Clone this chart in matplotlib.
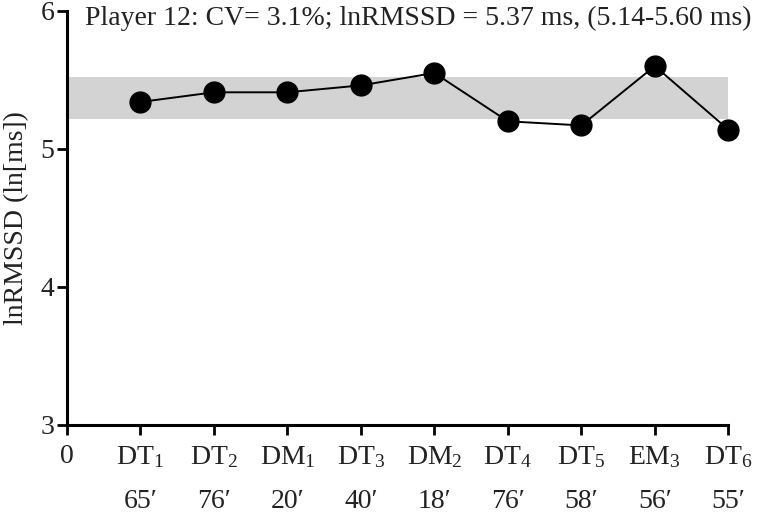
import matplotlib
matplotlib.use("Agg")
import matplotlib.pyplot as plt

plt.rcParams["font.family"] = ["Liberation Serif", "DejaVu Serif"]
plt.rcParams["mathtext.fontset"] = "custom"
plt.rcParams["mathtext.rm"] = "Liberation Serif"
plt.rcParams["mathtext.it"] = "Liberation Serif:italic"

sessions = ["DT", "DT", "DM", "DT", "DM", "DT", "DT", "EM", "DT"]
session_idx = [1, 2, 1, 3, 2, 4, 5, 3, 6]
minutes = [65, 76, 20, 40, 18, 76, 58, 56, 55]
ln_rmssd = [5.34, 5.41, 5.41, 5.46, 5.55, 5.20, 5.17, 5.60, 5.14]
band_low, band_high = 5.22, 5.52
title = "Player 12: CV= 3.1%; lnRMSSD = 5.37 ms, (5.14-5.60 ms)"

fs = 20

fig = plt.figure(figsize=(7.61, 5.17), dpi=100)
ax = fig.add_axes([0.088, 0.178, 0.869, 0.801])

x = list(range(1, len(ln_rmssd) + 1))
ax.axhspan(band_low, band_high, xmin=0, xmax=1, color="#d3d3d3", zorder=0, lw=0)
ax.plot(x, ln_rmssd, color="black", lw=1.4, marker="o", markersize=15,
        markerfacecolor="black", zorder=3, clip_on=False)

ax.set_xlim(0, 9)
ax.set_ylim(3, 6)
ax.set_yticks([3, 4, 5, 6])
ax.set_xticks([0] + x)
labels = ["0"] + [f"{s}$_{{{i}}}$\n{m}\u2032" for s, i, m in zip(sessions, session_idx, minutes)]
ax.set_xticklabels(labels, fontsize=fs, linespacing=2.0, color="#222222")
ax.tick_params(axis="y", labelsize=fs, length=7, width=2, pad=2, labelcolor="#222222")
ax.tick_params(axis="x", length=7, width=2, pad=7)

for side in ("top", "right"):
    ax.spines[side].set_visible(False)
for side in ("left", "bottom"):
    ax.spines[side].set_linewidth(2.2)

ax.set_ylabel("lnRMSSD (ln[ms])", fontsize=fs, labelpad=8, color="#222222")
fig.text(85 / 761, 1 - 18 / 517, title, fontsize=fs,
         ha="left", va="center", color="#222222")

fig.savefig("out.png", dpi=100)
